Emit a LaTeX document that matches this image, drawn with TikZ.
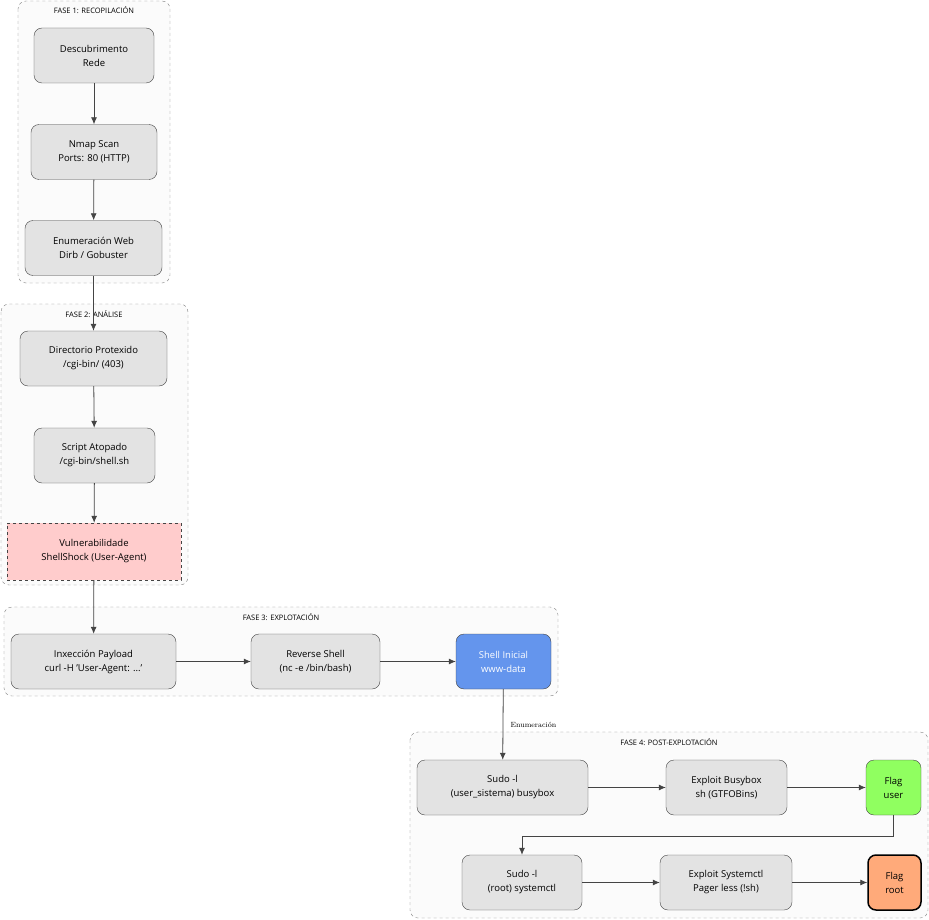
\documentclass[tikz,border=0pt]{standalone}
\usepackage{fontspec}
\setsansfont{Open Sans}
\usetikzlibrary{arrows.meta}
\definecolor{boxgray}{HTML}{E3E3E3}
\definecolor{linegray}{HTML}{444444}
\begin{document}
\begin{tikzpicture}[x=1pt,y=-1pt,
    stage/.style={draw=linegray,fill=boxgray,rounded corners=8pt,minimum height=55pt,align=center,
        font=\sffamily\fontsize{9.5}{14}\selectfont,inner sep=0pt},
    phase/.style={draw=gray,dashed,fill=gray!3,rounded corners=8pt},
    title/.style={font=\sffamily\fontsize{7.5}{9}\selectfont},
    flow/.style={draw=linegray,thick,-{Latex[length=7pt,width=6pt]}}]
    \useasboundingbox (0,0) rectangle (929,920);
    %%% PHASES %%%
    \draw[phase] (18,1) rectangle (170,283);
    \node[title] at (94,10){FASE 1: RECOPILACIÓN};
    \draw[phase] (1,304) rectangle (188,585);
    \node[title] at (94,314){FASE 2: ANÁLISE};
    \draw[phase] (4,607) rectangle (558,696);
    \node[title] at (281,617){FASE 3: EXPLOTACIÓN};
    \draw[phase] (410,732) rectangle (928,918);
    \node[title] at (669,742){FASE 4: POST-EXPLOTACIÓN};
    %%% STAGES %%%
    \node[stage,minimum width=120pt] (desc) at (94,55.5){Descubrimento\\Rede};
    \node[stage,minimum width=126pt] (nmap) at (94,152){Nmap Scan\\Ports: 80 (HTTP)};
    \node[stage,minimum width=137pt] (enum) at (93.5,248){Enumeración Web\\Dirb / Gobuster};
    \node[stage,minimum width=147pt] (dir) at (93.5,358.5){Directorio Protexido\\/cgi-bin/ (403)};
    \node[stage,minimum width=121pt] (script) at (94.5,455.5){Script Atopado\\/cgi-bin/shell.sh};
    \node[stage,minimum width=174pt,minimum height=57pt,rounded corners=0pt,dashed,fill={rgb,255:red,255;green,204;blue,204}]
        (vuln) at (94,551.5){Vulnerabilidade\\ShellShock (User-Agent)};
    \node[stage,minimum width=165pt] (inxec) at (93.5,661.5){Inxección Payload\\curl -H 'User-Agent: ...'};
    \node[stage,minimum width=129pt] (rev) at (315.5,661.5){Reverse Shell\\(nc -e /bin/bash)};
    \node[stage,minimum width=95pt,fill={rgb,255:red,100;green,149;blue,237},text=white]
        (shell) at (503.5,661.5){Shell Inicial\\www-data};
    \node[stage,minimum width=171pt] (sudoa) at (502.5,787.5){Sudo -l\\(user\_sistema) busybox};
    \node[stage,minimum width=121pt] (busy) at (726.5,787.5){Exploit Busybox\\sh (GTFOBins)};
    \node[stage,minimum width=55pt,fill={rgb,255:red,144;green,255;blue,96}] (flagu) at (893.5,787.5){Flag\\user};
    \node[stage,minimum width=120pt] (sudob) at (522,882.5){Sudo -l\\(root) systemctl};
    \node[stage,minimum width=132pt] (sysctl) at (726,882.5){Exploit Systemctl\\Pager less (!sh)};
    \node[stage,minimum width=53pt,draw=black,line width=1.5pt,fill={rgb,255:red,255;green,170;blue,122}]
        (flagr) at (894.5,882.5){Flag\\root};
    %%% FLOW %%%
    \draw[flow] (desc)--(nmap);
    \draw[flow] (nmap)--(enum);
    \draw[flow] (enum)--(dir);
    \draw[flow] (dir)--(script);
    \draw[flow] (script)--(vuln);
    \draw[flow] (vuln)--(inxec);
    \draw[flow] (inxec)--(rev);
    \draw[flow] (rev)--(shell);
    \draw[flow] (shell)--node[right,font=\fontsize{7.5}{9}\selectfont,xshift=4pt]{Enumeración}(sudoa);
    \draw[flow] (sudoa)--(busy);
    \draw[flow] (busy)--(flagu);
    \draw[flow] (flagu.south)--++(0,21)-|(sudob.north);
    \draw[flow] (sudob)--(sysctl);
    \draw[flow] (sysctl)--(flagr);
\end{tikzpicture}
\end{document}
